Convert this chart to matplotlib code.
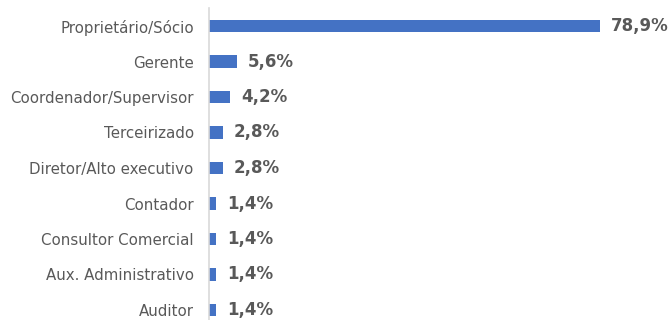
import matplotlib
matplotlib.use("Agg")
import matplotlib.pyplot as plt

categories = ["Proprietário/Sócio", "Gerente", "Coordenador/Supervisor",
              "Terceirizado", "Diretor/Alto executivo", "Contador",
              "Consultor Comercial", "Aux. Administrativo", "Auditor"]
values = [78.9, 5.6, 4.2, 2.8, 2.8, 1.4, 1.4, 1.4, 1.4]

fig = plt.figure(figsize=(6.71, 3.2), dpi=100)
ax = fig.add_axes([209 / 671, -7.75 / 320, 462 / 671, 319.5 / 320])

y = range(len(categories))
ax.barh(y, values, height=0.35, color="#4472C4")
ax.set_ylim(len(categories) - 0.5, -0.5)
ax.set_xlim(0, 93.2)

ax.set_yticks(list(y))
ax.set_yticklabels(categories, fontsize=10.8, color="#595959")
ax.tick_params(axis="y", length=0, pad=11)
ax.set_xticks([])

for s in ["top", "right", "bottom"]:
    ax.spines[s].set_visible(False)
ax.spines["left"].set_color("#D9D9D9")
ax.spines["left"].set_linewidth(1.2)

for i, v in enumerate(values):
    ax.annotate(f"{v:.1f}%".replace(".", ","), (v, i), xytext=(8, 0),
                textcoords="offset points", va="center", ha="left",
                fontsize=12, fontweight="bold", color="#595959")

fig.savefig("out.png", dpi=100)
